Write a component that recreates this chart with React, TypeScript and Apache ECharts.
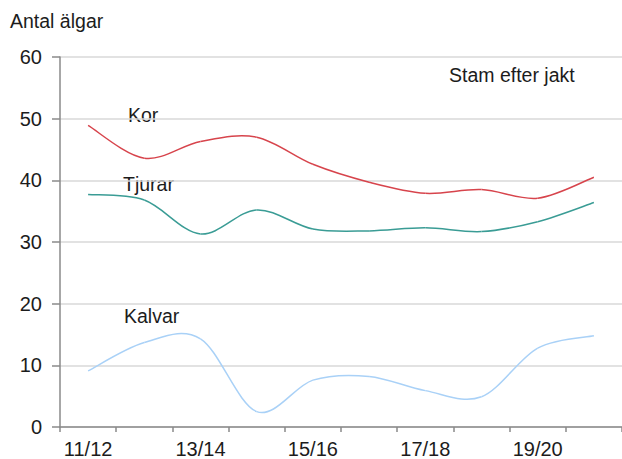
import React, { useEffect, useRef } from "react";
import * as echarts from "echarts";

const categories = ["11/12", "12/13", "13/14", "14/15", "15/16", "16/17", "17/18", "18/19", "19/20", "20/21"];
const kor = [48.9, 43.6, 46.3, 47.0, 42.6, 39.7, 37.9, 38.5, 37.1, 40.5];
const tjurar = [37.7, 36.8, 31.3, 35.2, 32.1, 31.8, 32.3, 31.7, 33.3, 36.4];
const kalvar = [9.1, 13.7, 14.3, 2.5, 7.6, 8.2, 5.9, 4.9, 12.8, 14.8];
const yTicks = { min: 0, max: 60, interval: 10 };

const FONT = "'Liberation Sans', Arial, sans-serif";
const TXT = "#1c1c1c";

function smoothSeries(name: string, values: number[], color: string) {
  return {
    name,
    type: "custom",
    coordinateSystem: "cartesian2d",
    data: values.map((v, i) => [i, v]),
    encode: { x: 0, y: 1 },
    renderItem: (params: any, api: any) => {
      const i = params.dataIndex;
      const n = values.length;
      if (i >= n - 1) return null;
      const pt = (j: number) => {
        const k = Math.max(0, Math.min(n - 1, j));
        return api.coord([k, values[k]]);
      };
      const p0 = pt(i - 1);
      const p1 = pt(i);
      const p2 = pt(i + 1);
      const p3 = pt(i + 2);
      const c1x = p1[0] + (p2[0] - p0[0]) / 6;
      const c1y = p1[1] + (p2[1] - p0[1]) / 6;
      const c2x = p2[0] - (p3[0] - p1[0]) / 6;
      const c2y = p2[1] - (p3[1] - p1[1]) / 6;
      return {
        type: "path",
        shape: {
          pathData: `M${p1[0]} ${p1[1]} C${c1x} ${c1y} ${c2x} ${c2y} ${p2[0]} ${p2[1]}`,
        },
        style: { stroke: color, fill: "none", lineWidth: 1.5 },
      };
    },
  };
}

export default function App() {
  const ref = useRef<HTMLDivElement>(null);
  useEffect(() => {
    if (!ref.current) return;
    const chart = echarts.init(ref.current, undefined, { renderer: "svg" });
    const mkText = (text: string, x: number, y: number) => ({
      type: "text",
      left: x,
      top: y,
      style: { text, fill: TXT, font: `19.5px ${FONT}`, textVerticalAlign: "middle" },
    });
    chart.setOption({
      animation: false,
      backgroundColor: "#ffffff",
      grid: { left: 60, right: 0, top: 57, bottom: 32, containLabel: false },
      xAxis: {
        type: "category",
        data: categories,
        boundaryGap: true,
        axisLine: { lineStyle: { color: "#8a8a8a", width: 1.5 } },
        axisTick: { show: true, interval: 0, length: 5, lineStyle: { color: "#8a8a8a", width: 1.5 } },
        axisLabel: { interval: 1, margin: 12, color: TXT, fontSize: 20, fontFamily: FONT },
        splitLine: { show: false },
      },
      yAxis: {
        type: "value",
        min: yTicks.min,
        max: yTicks.max,
        interval: yTicks.interval,
        axisLine: { show: true, lineStyle: { color: "#8a8a8a", width: 1.5 } },
        axisTick: { show: true, length: 8, lineStyle: { color: "#8a8a8a", width: 1.5 } },
        axisLabel: { margin: 18, color: TXT, fontSize: 20, fontFamily: FONT },
        splitLine: { show: true, lineStyle: { color: "#d9d9d9", width: 1.5 } },
      },
      series: [
        smoothSeries("Kor", kor, "#d7444c"),
        smoothSeries("Tjurar", tjurar, "#3a9c95"),
        smoothSeries("Kalvar", kalvar, "#a9d1f7"),
      ],
      graphic: [
        mkText("Antal älgar", 10, 11),
        mkText("Stam efter jakt", 449, 65),
        mkText("Kor", 128, 105),
        mkText("Tjurar", 123, 174),
        mkText("Kalvar", 124, 306),
      ],
    });
    return () => chart.dispose();
  }, []);
  return <div ref={ref} style={{ position: "fixed", left: 0, top: 0, width: 622, height: 459 }} />;
}
